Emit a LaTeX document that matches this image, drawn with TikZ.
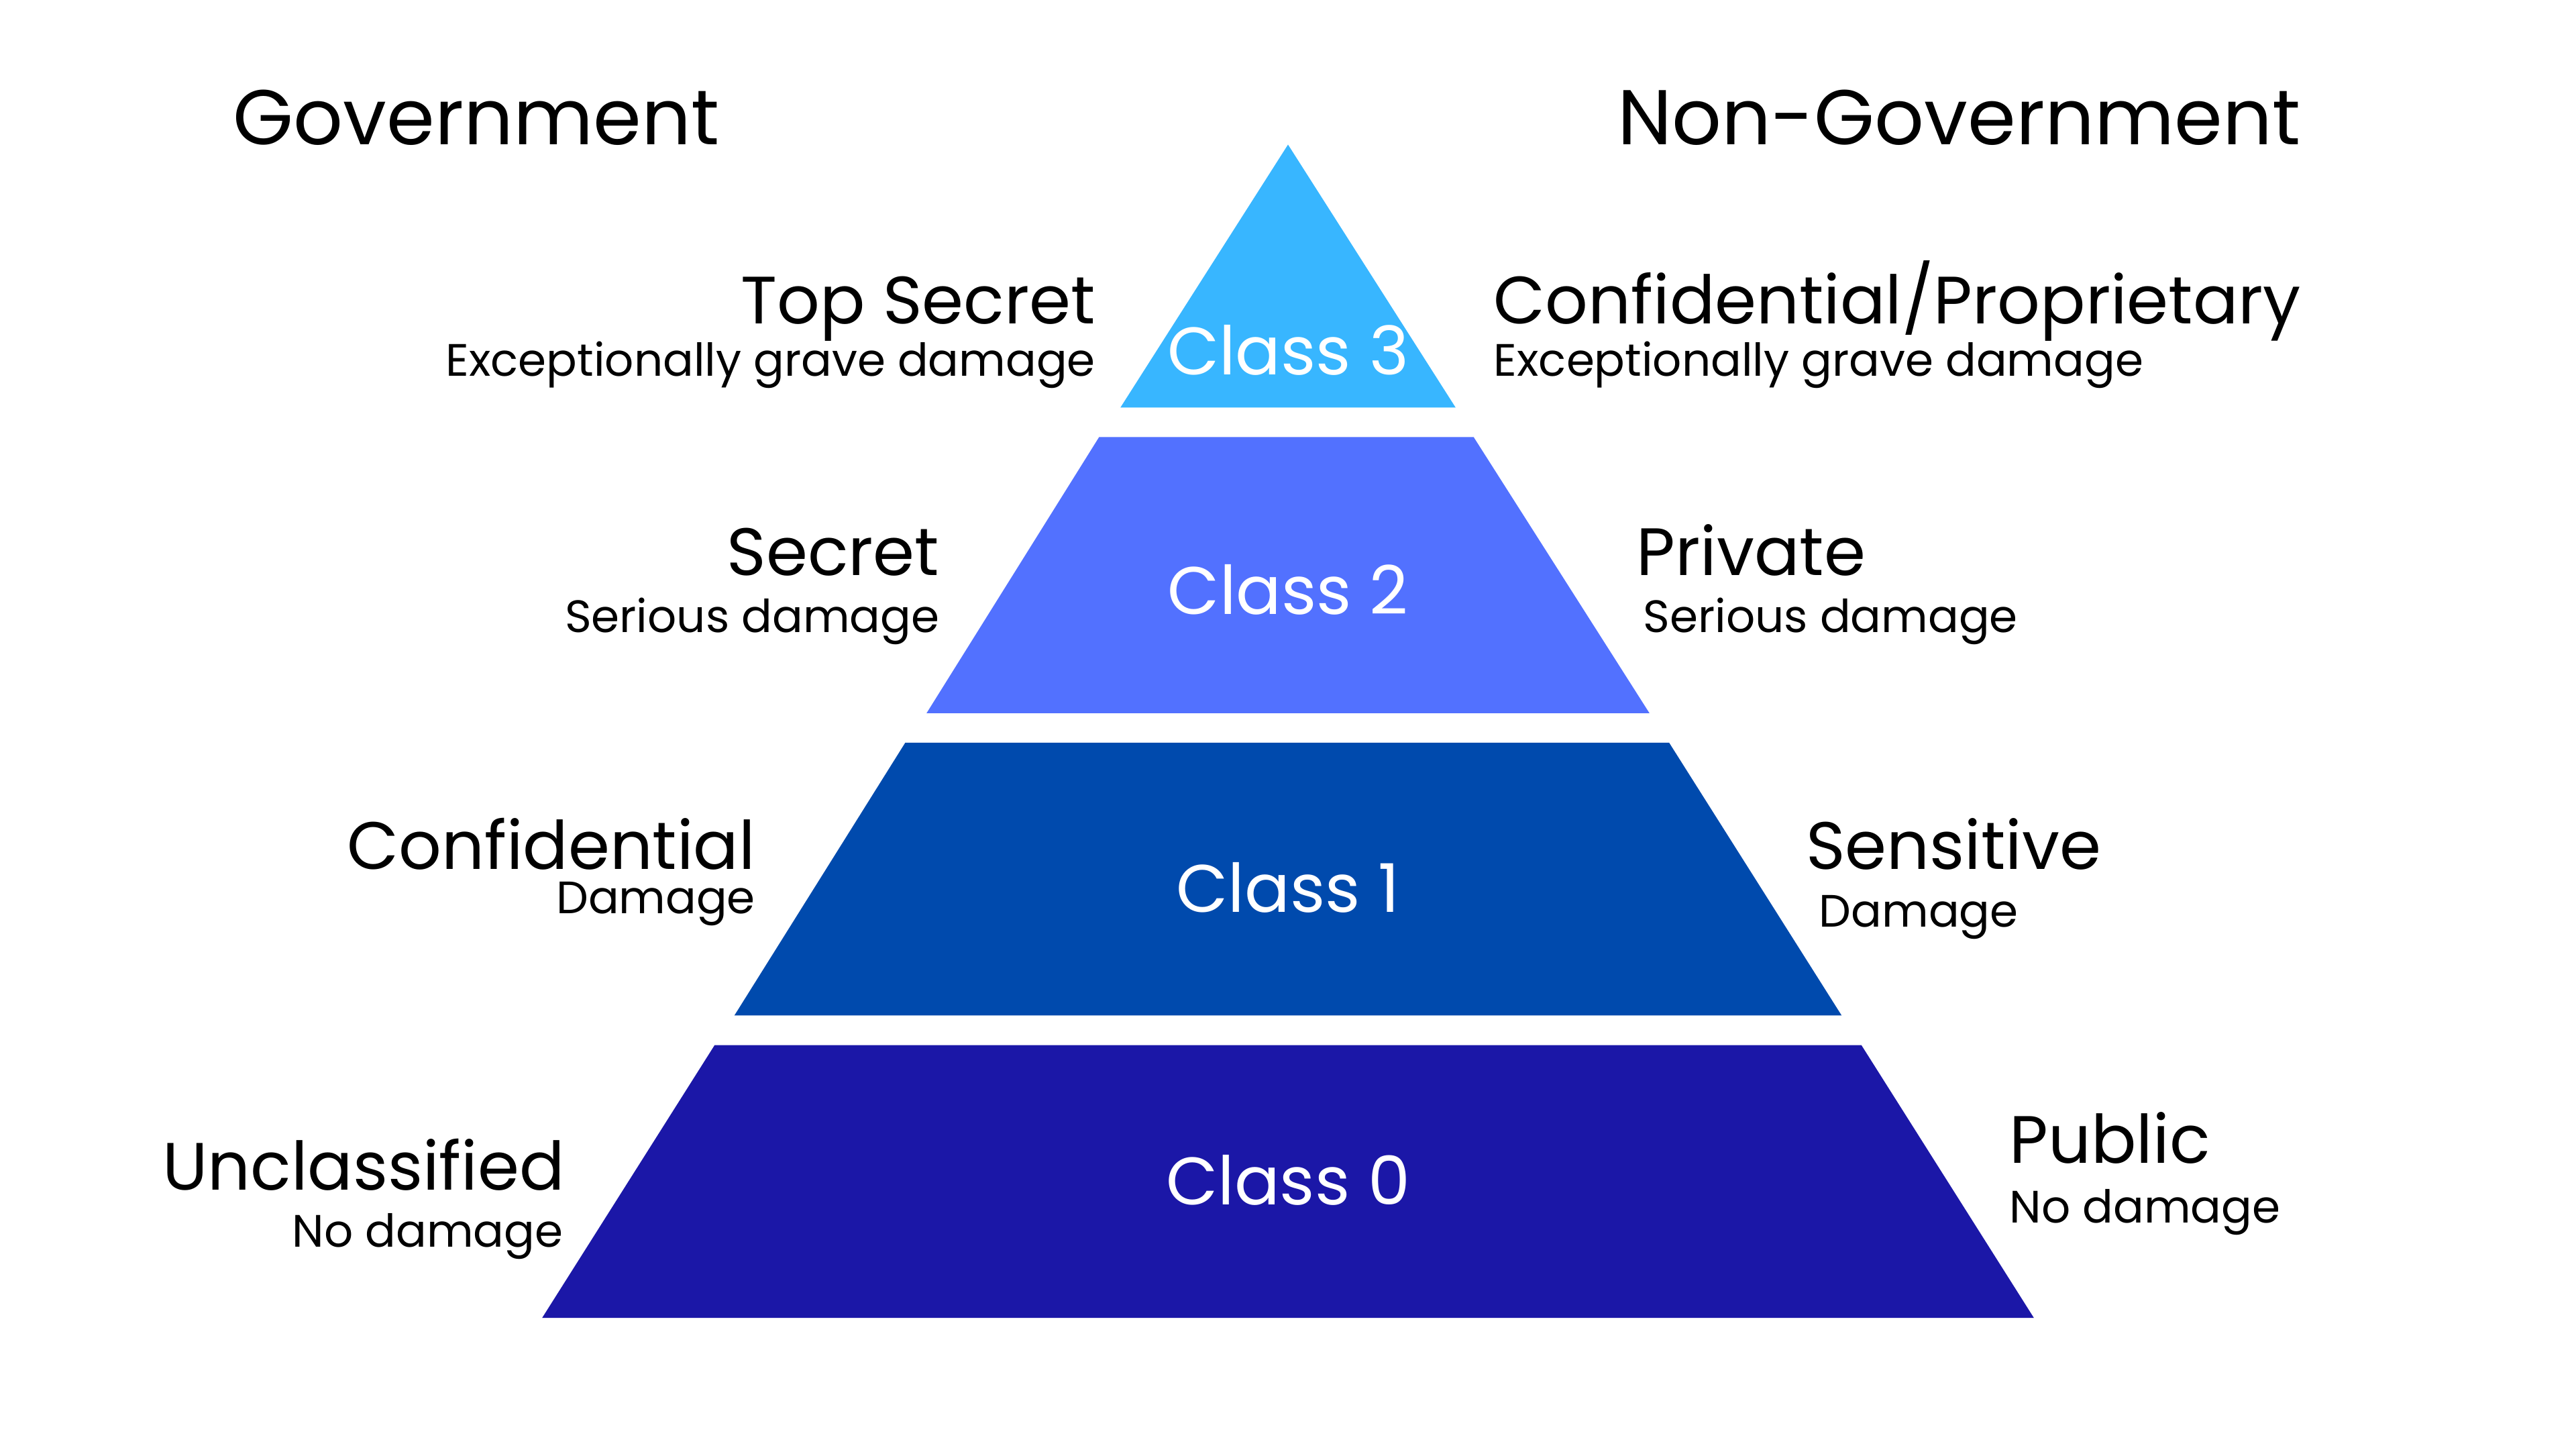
\documentclass[tikz,border=0pt]{standalone}
\usepackage{fontspec}
\setmainfont{Poppins}
\definecolor{cthree}{HTML}{38B6FF}
\definecolor{ctwo}{HTML}{5271FF}
\definecolor{cone}{HTML}{004AAD}
\definecolor{czero}{HTML}{1B17A7}
\tikzset{
  head/.style={font=\fontsize{32.9}{38}\selectfont, inner sep=0pt},
  lvl/.style={font=\fontsize{28.4}{34}\selectfont, inner sep=0pt},
  sub/.style={font=\fontsize{19.25}{23}\selectfont, inner sep=0pt},
  cls/.style={font=\fontsize{28.5}{34}\selectfont, text=white, inner sep=0pt, anchor=base},
}
\begin{document}
\begin{tikzpicture}[x=0.0244898cm, y=-0.0244898cm]
\useasboundingbox (0,0) rectangle (1568,882);
\fill[white] (0,0) rectangle (1568,882);
% pyramid
\fill[cthree] (784,88) -- (886,248) -- (682,248) -- cycle;
\fill[ctwo] (669,266) -- (897,266) -- (1004,434) -- (564,434) -- cycle;
\fill[cone] (551,452) -- (1016,452) -- (1121,618) -- (447,618) -- cycle;
\fill[czero] (435,636) -- (1133,636) -- (1238,802) -- (330,802) -- cycle;
% class labels
\node[cls] (c3) at (784,228) {Class 3};
\node[cls] (c2) at (784,374) {Class 2};
\node[cls] (c1) at (784,555) {Class 1};
\node[cls] (c0) at (784,733) {Class 0};
% headings
\node[head, anchor=base] (gov) at (290,88) {Government};
\node[head, anchor=base] (ngov) at (1192.5,88) {Non-Government};
% left
\node[lvl, anchor=base east] (ts) at (667,197) {Top Secret};
\node[sub, anchor=base east] (tsd) at (667,229) {Exceptionally grave damage};
\node[lvl, anchor=base east] (se) at (572,350) {Secret};
\node[sub, anchor=base east] (sed) at (572,385) {Serious damage};
\node[lvl, anchor=base east] (co) at (460,529) {Confidential};
\node[sub, anchor=base east] (cod) at (460,556) {Damage};
\node[lvl, anchor=base east] (un) at (344,724) {Unclassified};
\node[sub, anchor=base east] (und) at (343,759) {No damage};
% right
\node[lvl, anchor=base west] (cp) at (909,197) {Confidential/Proprietary};
\node[sub, anchor=base west] (cpd) at (909,229) {Exceptionally grave damage};
\node[lvl, anchor=base west] (pr) at (996,350) {Private};
\node[sub, anchor=base west] (prd) at (1000,385) {Serious damage};
\node[lvl, anchor=base west] (sn) at (1099,529) {Sensitive};
\node[sub, anchor=base west] (snd) at (1107,564) {Damage};
\node[lvl, anchor=base west] (pu) at (1223,708) {Public};
\node[sub, anchor=base west] (pud) at (1223,744) {No damage};
\end{tikzpicture}
\end{document}
